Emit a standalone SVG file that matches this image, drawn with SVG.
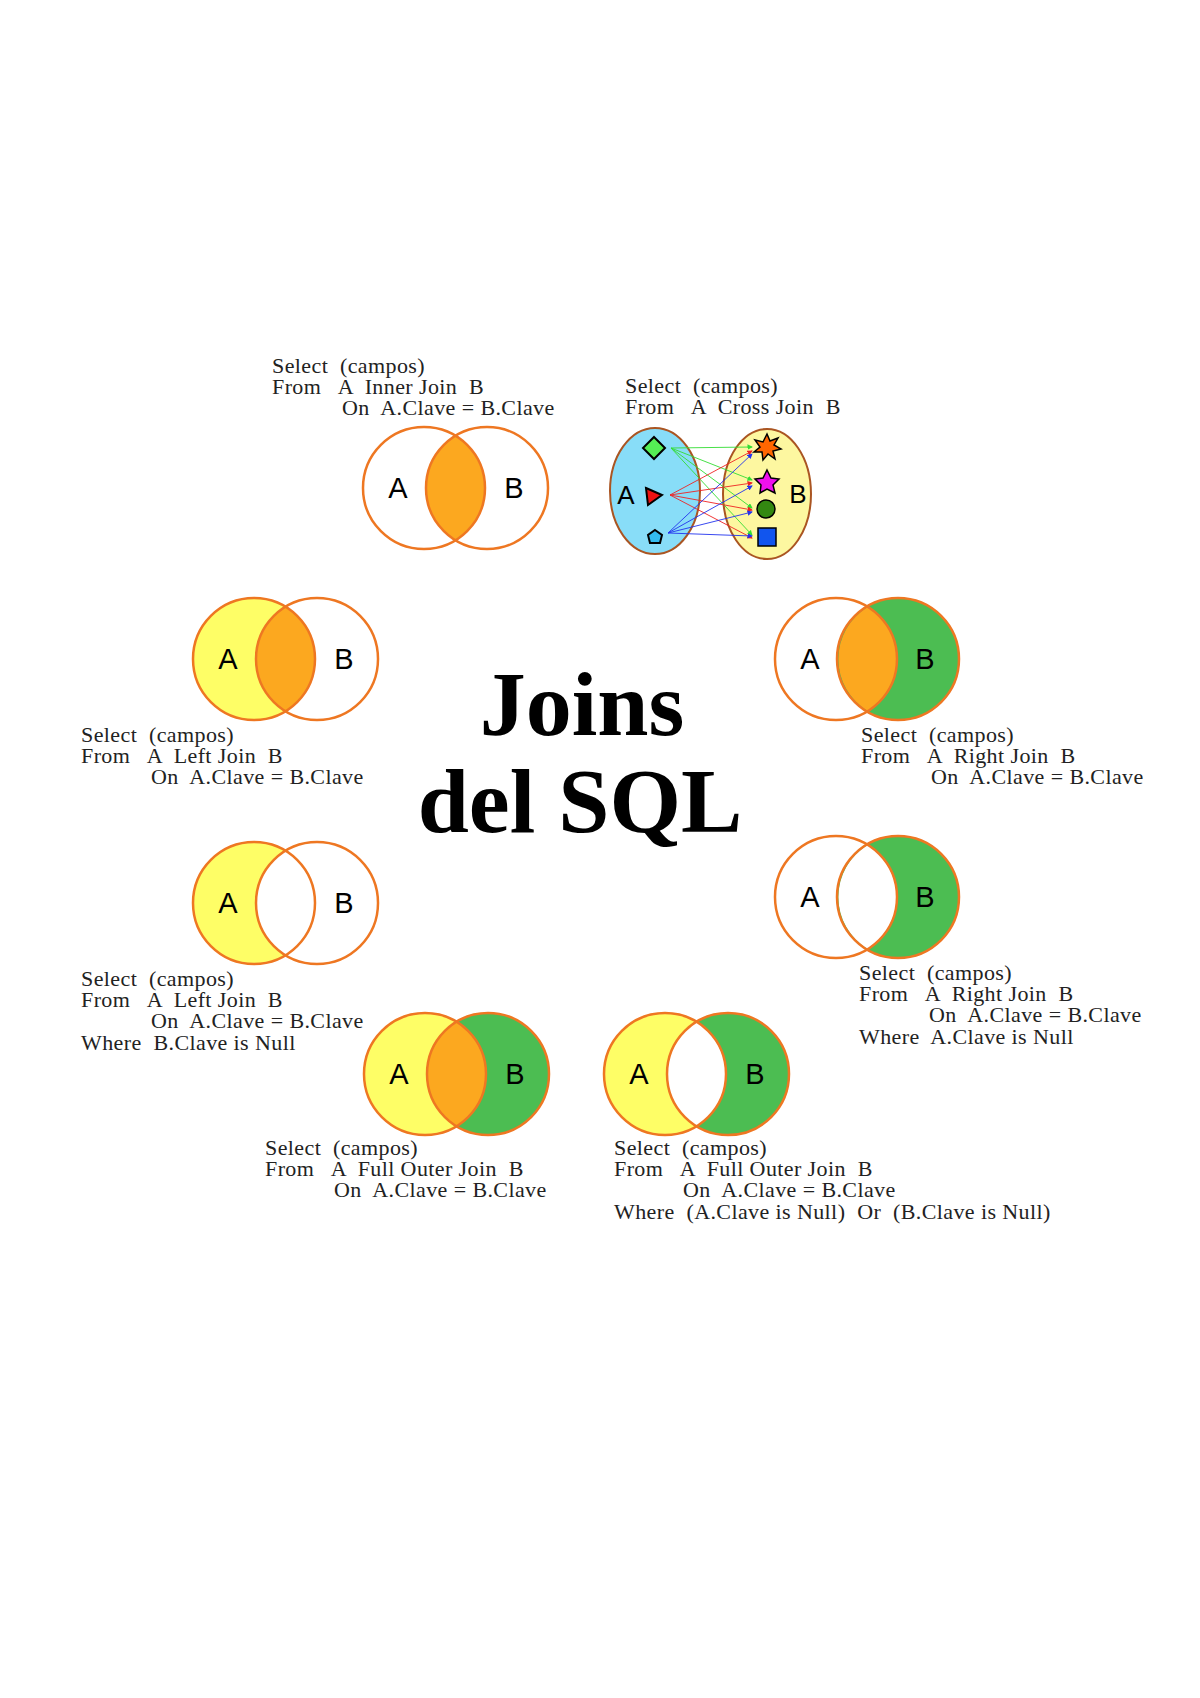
<svg xmlns="http://www.w3.org/2000/svg" width="1200" height="1698" viewBox="0 0 1200 1698">
<style>
.t{font-family:"Liberation Serif","DejaVu Serif",serif;font-size:22px;letter-spacing:0.4px;fill:#222;white-space:pre}
.l{font-family:"Liberation Sans","DejaVu Sans",sans-serif;font-size:29px;fill:#000;text-anchor:middle}
.s{fill:none;stroke:#ee7722;stroke-width:2.5}
.y{fill:#fefe66}.g{fill:#4cbd52}.o{fill:#fca81f}.w{fill:#fff}
.title{font-family:"Liberation Serif","DejaVu Serif",serif;font-weight:bold;font-size:92px;fill:#000;text-anchor:middle}
</style>
<defs>
<marker id="ag" markerWidth="6" markerHeight="6" refX="5" refY="3" orient="auto"><path d="M0,0L6,3L0,6z" fill="#33dd33"/></marker>
<marker id="ar" markerWidth="6" markerHeight="6" refX="5" refY="3" orient="auto"><path d="M0,0L6,3L0,6z" fill="#ee2222"/></marker>
<marker id="ab" markerWidth="6" markerHeight="6" refX="5" refY="3" orient="auto"><path d="M0,0L6,3L0,6z" fill="#2233ee"/></marker>
</defs>
<rect width="1200" height="1698" fill="#fff"/>

<text class="title" x="582" y="735">Joins</text>
<text class="title" x="580" y="832">del SQL</text>

<g id="inner">
<path class="o" d="M455.5,436 A61,61 0 0 1 455.5,540 A61,61 0 0 1 455.5,436z"/>
<circle class="s" cx="424" cy="488" r="61"/><circle class="s" cx="487" cy="488" r="61"/>
<text class="l" x="398" y="498">A</text><text class="l" x="514" y="498">B</text>
<text class="t" x="272" y="373" xml:space="preserve">Select  (campos)</text>
<text class="t" x="272" y="394" xml:space="preserve">From   A  Inner Join  B</text>
<text class="t" x="342" y="415" xml:space="preserve">On  A.Clave = B.Clave</text>
</g>

<g id="cross">
<text class="t" x="625" y="393" xml:space="preserve">Select  (campos)</text>
<text class="t" x="625" y="414" xml:space="preserve">From   A  Cross Join  B</text>
<ellipse cx="655" cy="491" rx="45" ry="63" fill="#88ddf8" stroke="#aa5522" stroke-width="2"/>
<ellipse cx="767" cy="494" rx="44" ry="65" fill="#fdf7a0" stroke="#aa5522" stroke-width="2"/>
<text class="l" x="626" y="504" style="font-size:26px">A</text>
<text class="l" x="798" y="503" style="font-size:26px">B</text>
<g stroke-width="0.9" fill="none">
<g stroke="#33dd33" marker-end="url(#ag)"><path d="M671,448L752,447"/><path d="M671,448L752,480"/><path d="M671,448L752,508"/><path d="M671,448L752,535"/></g>
<g stroke="#ee2222" marker-end="url(#ar)"><path d="M670,495L752,451"/><path d="M670,495L752,483"/><path d="M670,495L752,510"/><path d="M670,495L752,538"/></g>
<g stroke="#2233ee" marker-end="url(#ab)"><path d="M668,533L752,454"/><path d="M668,533L752,486"/><path d="M668,533L752,512"/><path d="M668,533L752,536"/></g>
</g>
<path d="M654,437L665,448L654,459L643,448z" fill="#55ee55" stroke="#000" stroke-width="2"/>
<path d="M646,488L662,495L648,505z" fill="#ee1111" stroke="#000" stroke-width="2"/>
<path d="M655,530L662,535L660,543L650,543L648,535z" fill="#33bbee" stroke="#000" stroke-width="2"/>
<path d="M767,434L770,441L778,438L774,445L781,449L773,451L775,459L768,454L763,460L762,452L754,452L760,447L755,440L763,442z" fill="#ff6600" stroke="#000" stroke-width="1.5"/>
<path d="M767,470L771,478L779,479L773,485L775,493L767,489L760,493L761,485L755,479L763,478z" fill="#ee11ee" stroke="#000" stroke-width="1.5"/>
<circle cx="766" cy="509" r="9" fill="#338811" stroke="#000" stroke-width="1.5"/>
<rect x="758" y="528" width="18" height="18" fill="#1155ee" stroke="#000" stroke-width="1.5"/>
</g>

<g id="left">
<circle class="y" cx="254" cy="659" r="61"/>
<path class="o" d="M285.5,607 A61,61 0 0 1 285.5,711 A61,61 0 0 1 285.5,607z"/>
<circle class="s" cx="254" cy="659" r="61"/><circle class="s" cx="317" cy="659" r="61"/>
<text class="l" x="228" y="669">A</text><text class="l" x="344" y="669">B</text>
<text class="t" x="81" y="742" xml:space="preserve">Select  (campos)</text>
<text class="t" x="81" y="763" xml:space="preserve">From   A  Left Join  B</text>
<text class="t" x="151" y="784" xml:space="preserve">On  A.Clave = B.Clave</text>
</g>

<g id="right">
<circle class="g" cx="898" cy="659" r="61"/>
<path class="o" d="M867.5,607 A61,61 0 0 1 867.5,711 A61,61 0 0 1 867.5,607z"/>
<circle class="s" cx="836" cy="659" r="61"/><circle class="s" cx="898" cy="659" r="61"/>
<text class="l" x="810" y="669">A</text><text class="l" x="925" y="669">B</text>
<text class="t" x="861" y="742" xml:space="preserve">Select  (campos)</text>
<text class="t" x="861" y="763" xml:space="preserve">From   A  Right Join  B</text>
<text class="t" x="931" y="784" xml:space="preserve">On  A.Clave = B.Clave</text>
</g>

<g id="leftex">
<circle class="y" cx="254" cy="903" r="61"/>
<path class="w" d="M285.5,851 A61,61 0 0 1 285.5,955 A61,61 0 0 1 285.5,851z"/>
<circle class="s" cx="254" cy="903" r="61"/><circle class="s" cx="317" cy="903" r="61"/>
<text class="l" x="228" y="913">A</text><text class="l" x="344" y="913">B</text>
<text class="t" x="81" y="986" xml:space="preserve">Select  (campos)</text>
<text class="t" x="81" y="1007" xml:space="preserve">From   A  Left Join  B</text>
<text class="t" x="151" y="1028" xml:space="preserve">On  A.Clave = B.Clave</text>
<text class="t" x="81" y="1050" xml:space="preserve">Where  B.Clave is Null</text>
</g>

<g id="rightex">
<circle class="g" cx="898" cy="897" r="61"/>
<path class="w" d="M867.5,845 A61,61 0 0 1 867.5,949 A61,61 0 0 1 867.5,845z"/>
<circle class="s" cx="836" cy="897" r="61"/><circle class="s" cx="898" cy="897" r="61"/>
<text class="l" x="810" y="907">A</text><text class="l" x="925" y="907">B</text>
<text class="t" x="859" y="980" xml:space="preserve">Select  (campos)</text>
<text class="t" x="859" y="1001" xml:space="preserve">From   A  Right Join  B</text>
<text class="t" x="929" y="1022" xml:space="preserve">On  A.Clave = B.Clave</text>
<text class="t" x="859" y="1044" xml:space="preserve">Where  A.Clave is Null</text>
</g>

<g id="full">
<circle class="y" cx="425" cy="1074" r="61"/><circle class="g" cx="488" cy="1074" r="61"/>
<path class="o" d="M456.5,1022 A61,61 0 0 1 456.5,1126 A61,61 0 0 1 456.5,1022z"/>
<circle class="s" cx="425" cy="1074" r="61"/><circle class="s" cx="488" cy="1074" r="61"/>
<text class="l" x="399" y="1084">A</text><text class="l" x="515" y="1084">B</text>
<text class="t" x="265" y="1155" xml:space="preserve">Select  (campos)</text>
<text class="t" x="265" y="1176" xml:space="preserve">From   A  Full Outer Join  B</text>
<text class="t" x="334" y="1197" xml:space="preserve">On  A.Clave = B.Clave</text>
</g>

<g id="fullex">
<circle class="y" cx="665" cy="1074" r="61"/><circle class="g" cx="728" cy="1074" r="61"/>
<path class="w" d="M696.5,1022 A61,61 0 0 1 696.5,1126 A61,61 0 0 1 696.5,1022z"/>
<circle class="s" cx="665" cy="1074" r="61"/><circle class="s" cx="728" cy="1074" r="61"/>
<text class="l" x="639" y="1084">A</text><text class="l" x="755" y="1084">B</text>
<text class="t" x="614" y="1155" xml:space="preserve">Select  (campos)</text>
<text class="t" x="614" y="1176" xml:space="preserve">From   A  Full Outer Join  B</text>
<text class="t" x="683" y="1197" xml:space="preserve">On  A.Clave = B.Clave</text>
<text class="t" x="614" y="1219" xml:space="preserve">Where  (A.Clave is Null)  Or  (B.Clave is Null)</text>
</g>
</svg>
